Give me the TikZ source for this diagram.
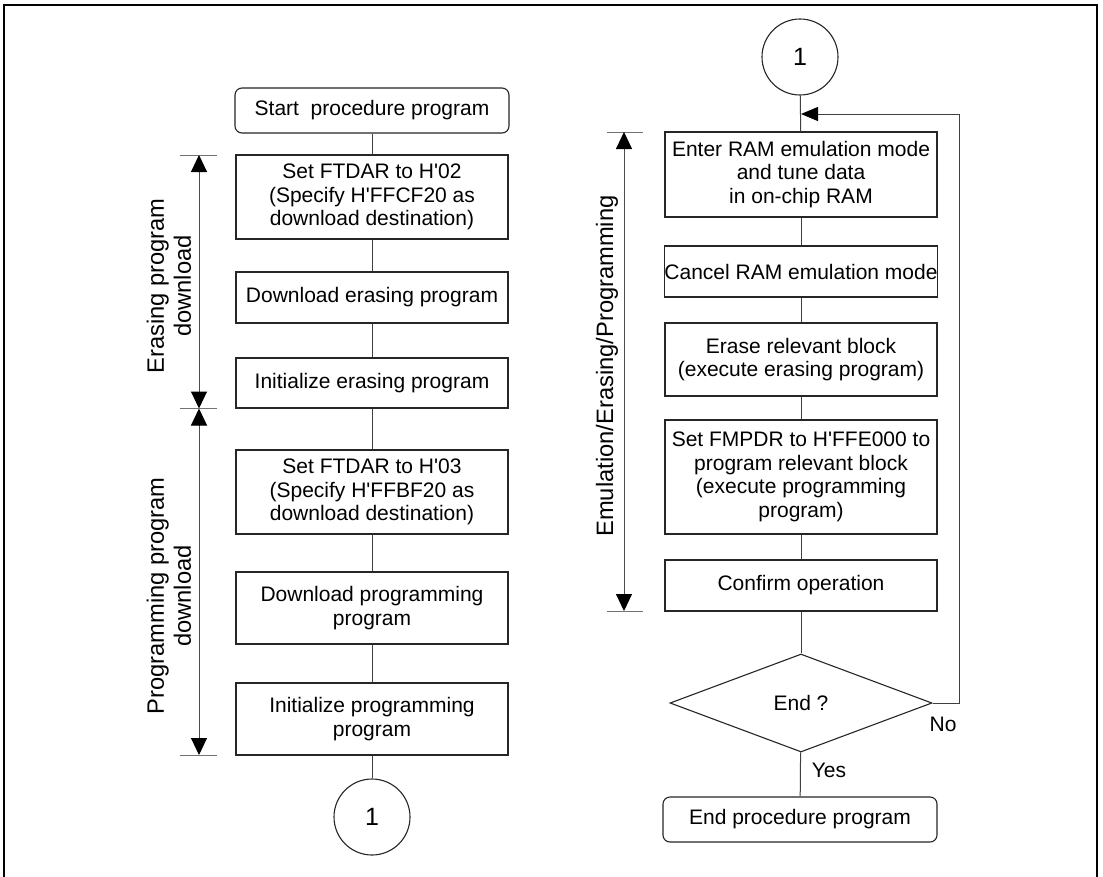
\documentclass[tikz,border=0pt]{standalone}
\usepackage{fontspec}
\setmainfont{Liberation Sans}[Ligatures=TeXOff]
\usetikzlibrary{arrows.meta,shapes.geometric}
\begin{document}
\begin{tikzpicture}[x=1pt,y=-1pt,
  box/.style={draw=black!85,line width=1.1pt,minimum width=272pt,align=center,inner sep=0pt,font=\fontsize{21}{23.5}\selectfont},
  rbox/.style={box,minimum width=274pt,minimum height=45pt,rounded corners=7pt},
  conn/.style={draw=black!75,line width=1pt},
  circ/.style={draw=black!85,line width=1.1pt,circle,minimum size=76pt,inner sep=0pt,font=\fontsize{25}{28}\selectfont},
  dec/.style={draw=black!85,line width=1.1pt,diamond,minimum width=262pt,minimum height=98pt,inner sep=0pt,font=\fontsize{21}{23.5}\selectfont},
  lbl/.style={font=\fontsize{23.7}{27}\selectfont,align=center,rotate=90,inner sep=0pt},
  small/.style={font=\fontsize{21}{23.5}\selectfont,inner sep=0pt},
  tickl/.style={draw=black!55,line width=1pt},
  dim/.style={draw=black!70,line width=1pt,{Triangle[length=17pt,width=16pt,color=black]}-{Triangle[length=17pt,width=16pt,color=black]}},
]
\useasboundingbox (0,0) rectangle (1103,876);
\fill[white] (0,0) rectangle (1103,876);
\draw[line width=2.5pt] (4,5) rectangle (1097,885);

% left column
\node[rbox] (start) at (372,110.5) {Start\ \ procedure program};
\node[box,minimum height=84pt] (s1) at (372,197) {Set FTDAR to H'02\\(Specify H'FFCF20 as\\download destination)};
\node[box,minimum height=51pt] (s2) at (372,297.5) {Download erasing program};
\node[box,minimum height=50pt] (s3) at (372,383) {Initialize erasing program};
\node[box,minimum height=84pt] (s4) at (372,492) {Set FTDAR to H'03\\(Specify H'FFBF20 as\\download destination)};
\node[box,minimum height=72pt] (s5) at (372,608) {Download programming\\program};
\node[box,minimum height=72pt] (s6) at (372,719) {Initialize programming\\program};
\node[circ] (c1) at (372,817) {1};

\draw[conn] (start) -- (s1);
\draw[conn] (s1) -- (s2);
\draw[conn] (s2) -- (s3);
\draw[conn] (s3) -- (s4);
\draw[conn] (s4) -- (s5);
\draw[conn] (s5) -- (s6);
\draw[conn] (s6) -- (c1);

% left dimension marks
\draw[tickl] (180,155) -- (217,155);
\draw[tickl] (180,408.5) -- (217,408.5);
\draw[tickl] (180,755) -- (217,755);
\draw[dim] (199,155) -- (199,408.5);
\draw[dim] (199,408.5) -- (199,755);
\node[lbl] (l1) at (169,286) {Erasing program\\download};
\node[lbl] (l2) at (169,596) {Programming program\\download};

% right column
\node[circ] (c2) at (800,57) {1};
\node[box,minimum height=85pt] (r1) at (801,174.5) {Enter RAM emulation mode\\and tune data\\in on-chip RAM};
\node[box,minimum height=51pt] (r2) at (801,271.5) {Cancel RAM emulation mode};
\node[box,minimum height=73pt] (r3) at (801,359.5) {Erase relevant block\\(execute erasing program)};
\node[box,minimum height=114pt] (r4) at (801,477) {Set FMPDR to H'FFE000 to\\program relevant block\\(execute programming\\program)};
\node[box,minimum height=51pt] (r5) at (801,585.5) {Confirm operation};
\node[dec] (d) at (801,703) {End ?};
\node[rbox] (end) at (800,819.5) {End procedure program};
\coordinate (loopin) at (801,114);

\draw[conn] (c2) -- (r1);
\draw[conn] (r1) -- (r2);
\draw[conn] (r2) -- (r3);
\draw[conn] (r3) -- (r4);
\draw[conn] (r4) -- (r5);
\draw[conn] (r5) -- (d);
\draw[conn] (d) -- (end);
\draw[conn,-{Triangle[length=17pt,width=14pt,color=black]}] (d.east) -- ++(27,0) |- (loopin);
\node[small,anchor=base] (no) at (943,731) {No};
\node[small,anchor=base] (yes) at (829,777) {Yes};

% right dimension
\draw[tickl] (607,132) -- (643,132);
\draw[tickl] (607,611) -- (643,611);
\draw[dim] (624,132) -- (624,611);
\node[lbl] (l3) at (607,366) {Emulation/Erasing/Programming};
\end{tikzpicture}
\end{document}
